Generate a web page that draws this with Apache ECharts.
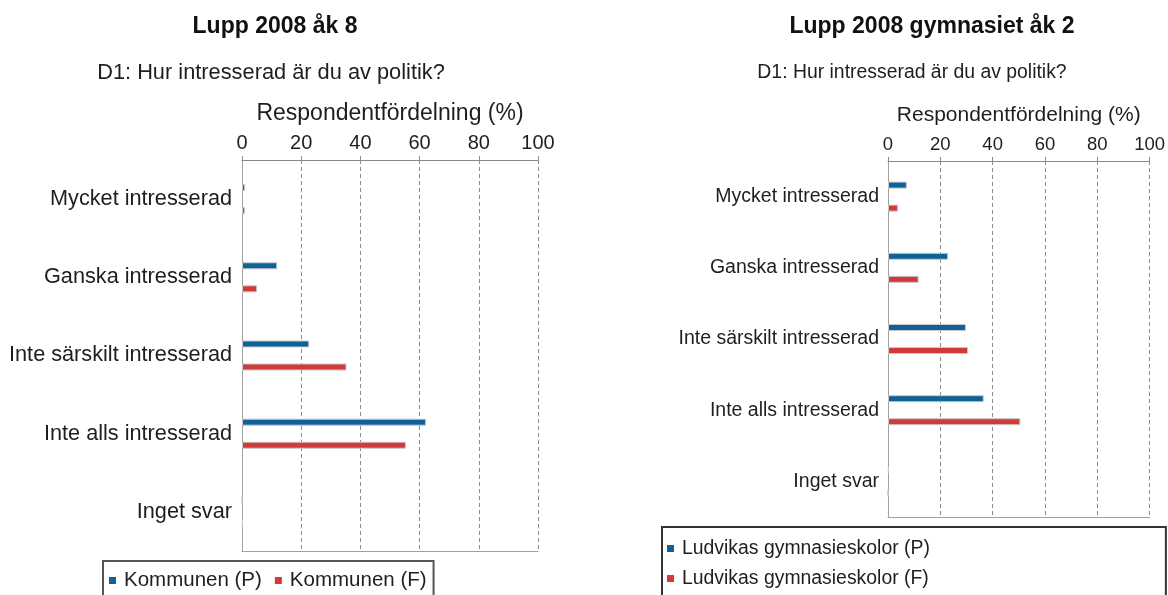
<!DOCTYPE html>
<html>
<head>
<meta charset="utf-8">
<style>
html, body { margin:0; padding:0; background:#fff; }
#main { width:1168px; height:595px; }
</style>
</head>
<body>
<div id="main"></div>
<script src="https://cdn.jsdelivr.net/npm/echarts@6/dist/echarts.min.js"></script>
<script>
var categories = ['Mycket intresserad', 'Ganska intresserad', 'Inte särskilt intresserad', 'Inte alls intresserad', 'Inget svar'];
var ticks = [0, 20, 40, 60, 80, 100];

// Lupp 2008 åk 8
var ak8Names = ['Kommunen (P)', 'Kommunen (F)'];
var ak8P = [1.0, 11.9, 22.7, 62.2, 0];
var ak8F = [1.0, 5.1, 35.3, 55.4, 0.3];

// Lupp 2008 gymnasiet åk 2
var gymNames = ['Ludvikas gymnasieskolor (P)', 'Ludvikas gymnasieskolor (F)'];
var gymP = [7.2, 23.0, 29.8, 36.6, 0.3];
var gymF = [3.8, 11.7, 30.6, 50.6, 0];

var BLUE = '#0f6199';
var RED = '#d23a3a';
var FONT = 'Liberation Sans, Arial, sans-serif';

var chart = echarts.init(document.getElementById('main'));

function valueAxis(grid, size, nameSize) {
    return {
        type: 'value',
        gridIndex: grid,
        position: 'top',
        min: ticks[0],
        max: ticks[ticks.length - 1],
        interval: ticks[1] - ticks[0],
        name: 'Respondentfördelning (%)',
        nameLocation: 'middle',
        nameGap: 35,
        nameTextStyle: { fontFamily: FONT, fontSize: nameSize, color: '#1e1e1e' },
        axisLine: { show: true, lineStyle: { color: '#8a8a8a', width: 1 } },
        axisTick: { show: true, length: 4, lineStyle: { color: '#8a8a8a' } },
        axisLabel: { fontFamily: FONT, fontSize: size, color: '#1e1e1e', margin: 7 },
        splitLine: { show: true, lineStyle: { color: '#8a8a8a', type: [4, 3], width: 1 } }
    };
}

function bottomLine(grid) {
    return {
        type: 'value',
        gridIndex: grid,
        position: 'bottom',
        min: 0, max: 100,
        axisLine: { show: true, lineStyle: { color: '#a0a0a0' } },
        axisTick: { show: false },
        axisLabel: { show: false },
        splitLine: { show: false }
    };
}

function catAxis(grid, size, margin) {
    return {
        type: 'category',
        gridIndex: grid,
        inverse: true,
        data: categories,
        axisLine: { show: true, lineStyle: { color: '#a0a0a0' } },
        axisTick: { show: false },
        axisLabel: { fontFamily: FONT, fontSize: size, color: '#1e1e1e', margin: margin }
    };
}

function bar(name, data, color, x, y) {
    return {
        name: name,
        type: 'bar',
        xAxisIndex: x,
        yAxisIndex: y,
        data: data,
        barWidth: 7,
        barGap: '229%',
        itemStyle: { color: color, borderColor: '#c8c8c8', borderWidth: 1 },
        emphasis: { disabled: true }
    };
}

var option = {
    animation: false,
    backgroundColor: '#fff',
    title: [
        { text: 'Lupp 2008 åk 8', left: 270, top: 10, textAlign: 'center',
          textStyle: { fontFamily: FONT, fontSize: 23, fontWeight: 'bold', color: '#111' } },
        { text: 'D1: Hur intresserad är du av politik?', left: 266, top: 57, textAlign: 'center',
          textStyle: { fontFamily: FONT, fontSize: 21.8, fontWeight: 'normal', color: '#1e1e1e' } },
        { text: 'Lupp 2008 gymnasiet åk 2', left: 927, top: 10, textAlign: 'center',
          textStyle: { fontFamily: FONT, fontSize: 23, fontWeight: 'bold', color: '#111' } },
        { text: 'D1: Hur intresserad är du av politik?', left: 907, top: 58, textAlign: 'center',
          textStyle: { fontFamily: FONT, fontSize: 19.4, fontWeight: 'normal', color: '#1e1e1e' } }
    ],
    legend: [
        {
            data: ak8Names,
            left: 103, top: 561,
            orient: 'horizontal',
            icon: 'rect', itemWidth: 7, itemHeight: 7, itemGap: 13,
            itemStyle: { borderWidth: 0 },
            padding: [9, 7, 20, 6],
            borderColor: '#555', borderWidth: 2,
            textStyle: { fontFamily: FONT, fontSize: 20.5, color: '#1e1e1e', padding: [0, 0, 0, 3] },
            selectedMode: false
        },
        {
            data: gymNames,
            left: 662, top: 527,
            height: 120,
            orient: 'vertical',
            icon: 'rect', itemWidth: 7, itemHeight: 7, itemGap: 11,
            itemStyle: { borderWidth: 0 },
            padding: [12, 236, 20, 5],
            borderColor: '#333', borderWidth: 2,
            textStyle: { fontFamily: FONT, fontSize: 19.4, color: '#1e1e1e', padding: [0, 0, 0, 3] },
            selectedMode: false
        }
    ],
    grid: [
        { left: 242, top: 160, width: 296, height: 391 },
        { left: 888, top: 161, width: 264, height: 356 }
    ],
    xAxis: [
        valueAxis(0, 20, 23),
        valueAxis(1, 18.5, 21),
        bottomLine(0),
        bottomLine(1)
    ],
    yAxis: [
        catAxis(0, 21.7, 10),
        catAxis(1, 19.5, 9)
    ],
    series: [
        bar(ak8Names[0], ak8P, BLUE, 0, 0),
        bar(ak8Names[1], ak8F, RED, 0, 0),
        bar(gymNames[0], gymP, BLUE, 1, 1),
        bar(gymNames[1], gymF, RED, 1, 1)
    ]
};

chart.setOption(option);
</script>
</body>
</html>
